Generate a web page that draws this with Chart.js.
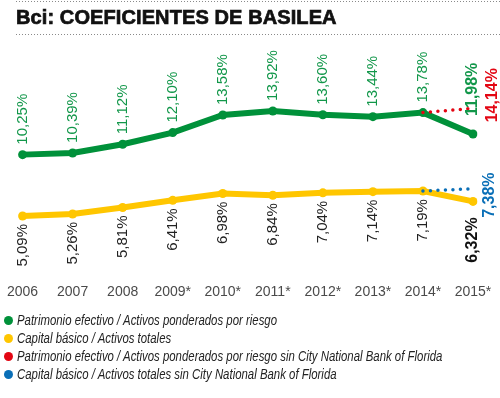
<!DOCTYPE html>
<html>
<head>
<meta charset="utf-8">
<script src="https://cdn.jsdelivr.net/npm/chart.js@4/dist/chart.umd.min.js"></script>
<style>
  html, body { margin: 0; padding: 0; background: #fff; }
  #wrap { position: relative; width: 500px; height: 398px; overflow: hidden; }
  #c { position: absolute; left: 0; top: 0; }
  .dots { position: absolute; left: 16px; right: 0; height: 1px;
    background-image: linear-gradient(to right, #8a8a8a 1px, transparent 1px);
    background-size: 3px 1px; }
  #title { position: absolute; left: 16px; top: 5px; font-family: "Liberation Sans", Arial, sans-serif;
    font-weight: bold; font-size: 20px; line-height: 24px; letter-spacing: 0.1px; color: #111; -webkit-text-stroke: 0.7px #111; white-space: nowrap; }
  #legend { position: absolute; left: 0; top: 311px; font-family: "Liberation Sans", Arial, sans-serif; }
  .row { position: relative; height: 18px; white-space: nowrap; }
  .row i.dot { position: absolute; left: 4px; top: 5px; width: 9px; height: 9px; border-radius: 50%; }
  .row span { position: absolute; left: 17px; top: 0; font-style: italic; font-size: 15px; line-height: 18px; color: #222;
    transform: scaleX(0.76); transform-origin: 0 50%; }
</style>
</head>
<body>
<div id="wrap">
  <canvas id="c" width="500" height="398"></canvas>
  <div class="dots" style="top:1px"></div>
  <div id="title">Bci: COEFICIENTES DE BASILEA</div>
  <div class="dots" style="top:34px"></div>
  <div id="legend"></div>
</div>
<script>
const years = ['2006', '2007', '2008', '2009*', '2010*', '2011*', '2012*', '2013*', '2014*', '2015*'];
const patrimonioEfectivo = [10.25, 10.39, 11.12, 12.10, 13.58, 13.92, 13.60, 13.44, 13.78, 11.98];
const capitalBasico = [5.09, 5.26, 5.81, 6.41, 6.98, 6.84, 7.04, 7.14, 7.19, 6.32];
const patrimonioSinCNB = [null, null, null, null, null, null, null, null, 13.78, 14.14];
const capitalSinCNB = [null, null, null, null, null, null, null, null, 7.19, 7.38];
const seriesNames = [
  'Patrimonio efectivo / Activos ponderados por riesgo',
  'Capital básico / Activos totales',
  'Patrimonio efectivo / Activos ponderados por riesgo sin City National Bank of Florida',
  'Capital básico / Activos totales sin City National Bank of Florida'
];

const GREEN = '#00913a', YELLOW = '#ffc600', RED = '#e30613', BLUE = '#0a6fb7';
const colors = [GREEN, YELLOW, RED, BLUE];

// HTML legend
const leg = document.getElementById('legend');
seriesNames.forEach((n, i) => {
  const r = document.createElement('div'); r.className = 'row';
  const d = document.createElement('i'); d.className = 'dot'; d.style.background = colors[i];
  const s = document.createElement('span'); s.textContent = n;
  r.appendChild(d); r.appendChild(s); leg.appendChild(r);
});

const fmt = v => v.toFixed(2).replace('.', ',') + '%';

const labelPlugin = {
  id: 'valueLabels',
  afterDatasetsDraw(chart) {
    const ctx = chart.ctx;
    const gm = chart.getDatasetMeta(0).data;
    const ym = chart.getDatasetMeta(1).data;
    const rm = chart.getDatasetMeta(2).data;
    const bm = chart.getDatasetMeta(3).data;
    const rot = (text, x, y, align, font, color) => {
      ctx.save();
      ctx.translate(x, y);
      ctx.rotate(-Math.PI / 2);
      ctx.textAlign = align;
      ctx.textBaseline = 'middle';
      ctx.font = font;
      ctx.fillStyle = color;
      ctx.fillText(text, 0, 0);
      ctx.restore();
    };
    const reg = '15px "Liberation Sans", Arial, sans-serif';
    const bold = 'bold 16px "Liberation Sans", Arial, sans-serif';
    const last = years.length - 1;
    for (let i = 0; i < last; i++) {
      rot(fmt(patrimonioEfectivo[i]), gm[i].x, gm[i].y - 10, 'left', reg, '#12974a');
      rot(fmt(capitalBasico[i]), ym[i].x, ym[i].y + 8, 'right', reg, '#222');
    }
    rot(fmt(patrimonioEfectivo[last]), gm[last].x, gm[last].y - 18, 'left', bold, '#12974a');
    rot(fmt(capitalBasico[last]), ym[last].x, ym[last].y + 16, 'right', bold, '#111');
    rot(fmt(patrimonioSinCNB[last]), rm[last].x + 20, rm[last].y + 14, 'left', bold, RED);
    rot(fmt(capitalSinCNB[last]), bm[last].x + 17, bm[last].y + 29, 'left', bold, BLUE);
  }
};

new Chart(document.getElementById('c'), {
  type: 'line',
  data: {
    labels: years,
    datasets: [
      { label: seriesNames[0], data: patrimonioEfectivo, borderColor: GREEN, backgroundColor: GREEN,
        borderWidth: 6, pointRadius: 4.5, pointBorderWidth: 0, tension: 0, order: 2 },
      { label: seriesNames[1], data: capitalBasico, borderColor: YELLOW, backgroundColor: YELLOW,
        borderWidth: 6, pointRadius: 4.5, pointBorderWidth: 0, tension: 0, order: 2 },
      { label: seriesNames[2], data: patrimonioSinCNB, borderColor: RED, backgroundColor: RED,
        borderWidth: 3.5, borderDash: [0, 7.5], borderCapStyle: 'round', pointRadius: 0, order: 1 },
      { label: seriesNames[3], data: capitalSinCNB, borderColor: BLUE, backgroundColor: BLUE,
        borderWidth: 3.5, borderDash: [0, 7.5], borderCapStyle: 'round', pointRadius: 0, order: 1 }
    ]
  },
  options: {
    responsive: false,
    animation: false,
    devicePixelRatio: 1,
    layout: { padding: { left: 22, right: 27, top: 38.6, bottom: 99.4 } },
    plugins: { legend: { display: false }, tooltip: { enabled: false }, title: { display: false } },
    scales: {
      x: {
        offset: false,
        grid: { display: false, drawTicks: false },
        border: { display: false },
        ticks: { color: '#4a4a4a', font: { family: '"Liberation Sans", Arial, sans-serif', size: 14 }, padding: 7,
          maxRotation: 0, autoSkip: false },
        afterFit(scale) { scale.height = 22; }
      },
      y: { display: false, min: 0, max: 20 }
    }
  },
  plugins: [labelPlugin]
});
</script>
</body>
</html>
